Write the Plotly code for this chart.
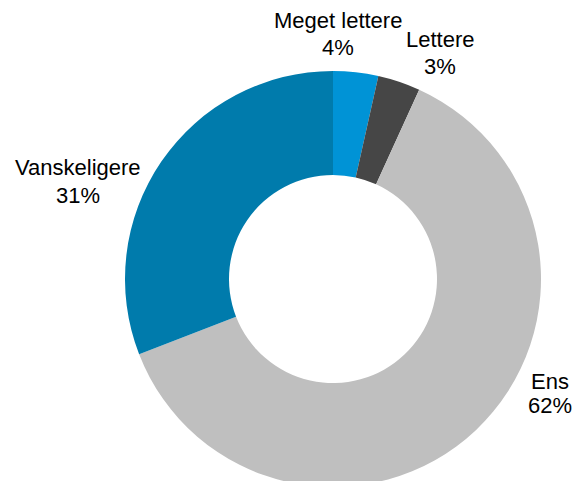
import plotly.graph_objects as go

# --- Data ---
categories = ["Meget lettere", "Lettere", "Ens", "Vanskeligere"]
shares = [3.5, 3.3, 62.3, 30.9]
colors = ["#0093D6", "#464646", "#BFBFBF", "#007BAC"]

W, H = 580, 481
OFF = 8  # page body margin shifts the figure by this many pixels

# label positions in screen pixels: x centre, y of name line, y of percent line
label_x = [338, 440, 550, 78]
name_y = [21, 39, 381, 167]
pct_y = [47, 66, 405, 195]

fig = go.Figure(go.Pie(
    labels=categories,
    values=shares,
    hole=0.5,
    sort=False,
    direction="clockwise",
    rotation=0,
    marker=dict(colors=colors, line=dict(width=0)),
    textinfo="none",
    hoverinfo="label+percent",
    showlegend=False,
    domain=dict(x=[(125 - OFF) / W, (541 - OFF) / W],
                y=[1 - (487 - OFF) / H, 1 - (71 - OFF) / H]),
))


def px_to_paper(x, y):
    return (x - OFF) / W, 1 - (y - OFF) / H


for cat, val, x, ny, py in zip(categories, shares, label_x, name_y, pct_y):
    for txt, ty in ((cat, ny), (f"{val:.0f}%", py)):
        ax, ay = px_to_paper(x, ty)
        fig.add_annotation(
            text=txt, x=ax, y=ay,
            xref="paper", yref="paper",
            xanchor="center", yanchor="middle",
            showarrow=False, borderpad=0,
            font=dict(size=22, color="black"),
        )

fig.update_layout(
    width=W,
    height=H,
    margin=dict(l=0, r=0, t=0, b=0),
    paper_bgcolor="white",
    plot_bgcolor="white",
    font=dict(family="Liberation Sans, Arial, sans-serif"),
)

fig.write_html("out.html")
